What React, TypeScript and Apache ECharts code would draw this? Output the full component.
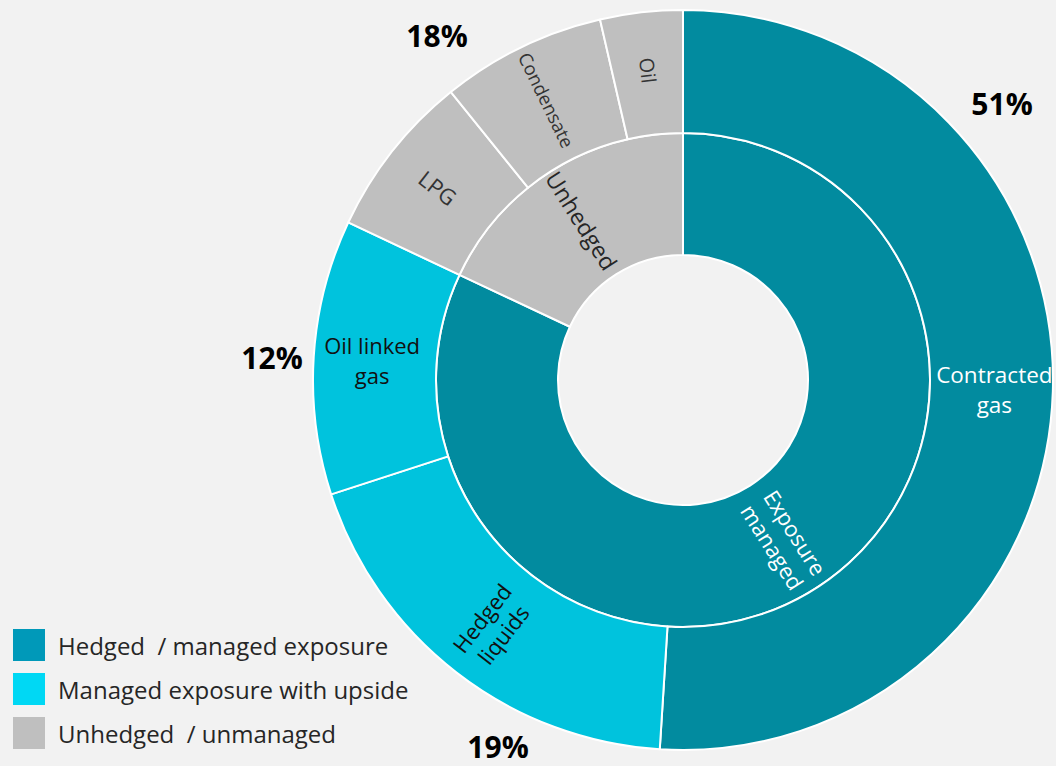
import React, { useEffect, useRef } from "react";
import * as echarts from "echarts";

// ---- data ----
const innerCategories = ["Exposure managed", "Unhedged"];
const innerValues = [82, 18];
const outerCategories = ["Contracted gas", "Hedged liquids", "Oil linked gas", "LPG", "Condensate", "Oil"];
const outerValues = [51, 19, 12, 7.2, 7.2, 3.6];
const shareValues = [51, 19, 12, 18];
const legendNames = ["Hedged  / managed exposure", "Managed exposure with upside", "Unhedged  / unmanaged"];

// ---- styles ----
const FONT = "'Open Sans', Lato, sans-serif";
const TEAL = "#028B9F";
const CYAN = "#00C3DD";
const GREY = "#BFBFBF";
const innerColors = [TEAL, GREY];
const outerColors = [TEAL, CYAN, CYAN, GREY, GREY, GREY];
const legendColors = ["#0099B9", "#00D8F4", "#BFBFBF"];

const innerLabel: Record<string, any> = {
  "Exposure managed": { text: "Exposure\nmanaged", rotate: "radial", color: "#ffffff", size: 22, lh: 27 },
  Unhedged: { text: "Unhedged", rotate: "radial", color: "#262626", size: 23, lh: 26 },
};
const outerLabel: Record<string, any> = {
  "Contracted gas": { text: "Contracted\ngas", rotate: 0, color: "#ffffff", size: 22.5, lh: 30 },
  "Hedged liquids": { text: "Hedged\nliquids", rotate: "radial", color: "#111111", size: 22, lh: 27 },
  "Oil linked gas": { text: "Oil linked\ngas", rotate: 0, color: "#111111", size: 22, lh: 30 },
  LPG: { text: "LPG", rotate: "radial", color: "#333333", size: 22, lh: 24 },
  Condensate: { text: "Condensate", rotate: "radial", color: "#333333", size: 18.5, lh: 20 },
  Oil: { text: "Oil", rotate: "radial", color: "#333333", size: 20, lh: 22 },
};
const sharePositions = [
  [1002, 103],
  [498, 746],
  [272, 357],
  [437, 35],
];

const CENTER = [683, 380];

function mkLabel(s: any) {
  return {
    show: true,
    position: "inside",
    formatter: () => s.text,
    rotate: s.rotate,
    color: s.color,
    fontSize: s.size,
    lineHeight: s.lh,
    fontFamily: FONT,
    align: "center",
  };
}

export default function App() {
  const ref = useRef<HTMLDivElement>(null);
  useEffect(() => {
    if (!ref.current) return;
    const chart = echarts.init(ref.current, undefined, { renderer: "svg" });
    const option: any = {
      animation: false,
      backgroundColor: "#F2F2F2",
      legend: {
        orient: "vertical",
        left: 13,
        top: 629,
        padding: 0,
        itemWidth: 32,
        itemHeight: 32,
        itemGap: 12,
        icon: "rect",
        selectedMode: false,
        textStyle: { fontFamily: FONT, fontSize: 24, color: "#262626", padding: [0, 0, 0, 8] },
        data: legendNames.map((n, i) => ({ name: n, itemStyle: { color: legendColors[i] } })),
      },
      series: [
        {
          type: "pie",
          name: "inner",
          center: CENTER,
          radius: [125, 247],
          startAngle: 90,
          clockwise: true,
          avoidLabelOverlap: false,
          legendHoverLink: false,
          labelLine: { show: false },
          itemStyle: { borderColor: "#ffffff", borderWidth: 2 },
          emphasis: { disabled: true },
          data: innerCategories.map((c, i) => ({
            name: c,
            value: innerValues[i],
            itemStyle: { color: innerColors[i] },
            label: mkLabel(innerLabel[c]),
          })),
        },
        {
          type: "pie",
          name: "outer",
          center: CENTER,
          radius: [247, 370],
          startAngle: 90,
          clockwise: true,
          avoidLabelOverlap: false,
          legendHoverLink: false,
          labelLine: { show: false },
          itemStyle: { borderColor: "#ffffff", borderWidth: 2 },
          emphasis: { disabled: true },
          data: outerCategories.map((c, i) => ({
            name: c,
            value: outerValues[i],
            itemStyle: { color: outerColors[i] },
            label: mkLabel(outerLabel[c]),
          })),
        },
        ...legendNames.map((n, i) => ({
          type: "pie",
          name: n,
          data: [],
          showEmptyCircle: false,
          itemStyle: { color: legendColors[i] },
          label: { show: false },
        })),
      ],
      graphic: shareValues.map((v, i) => ({
        type: "text",
        x: sharePositions[i][0],
        y: sharePositions[i][1],
        style: {
          text: v + "%",
          fill: "#000000",
          font: `bold 30px ${FONT}`,
          align: "center",
          verticalAlign: "middle",
        },
      })),
    };
    chart.setOption(option);
    return () => chart.dispose();
  }, []);
  return (
    <div
      ref={ref}
      style={{ position: "absolute", left: 0, top: 0, width: 1056, height: 766, background: "#F2F2F2" }}
    />
  );
}
